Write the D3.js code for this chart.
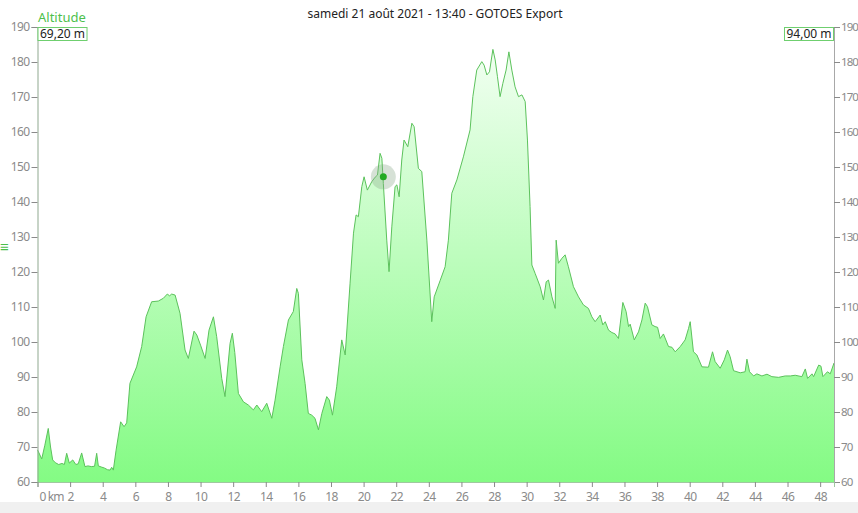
<!DOCTYPE html>
<head>
  <meta charset="utf-8">
  <script src="https://d3js.org/d3.v7.min.js"></script>
  <style>
    body { margin: 0; background: #fff; }
    text { font-family: "Noto Sans", "Open Sans", sans-serif; }
    .axis text { fill: #8a8a8a; font-size: 12px; letter-spacing: -0.6px; }
  </style>
</head>
<body>
<svg id="chart"></svg>
<script>
  // distance (km) and altitude (m)
  var km = [0, 0.26, 0.45, 0.66, 0.8, 0.93, 1.1, 1.3, 1.5, 1.65, 1.79, 1.95, 2.16, 2.35, 2.5, 2.71, 2.91, 3.1, 3.3, 3.5,
    3.63, 3.73, 3.9, 4.1, 4.3, 4.45, 4.55, 4.65, 4.82, 5.1, 5.31, 5.47, 5.67, 6.08, 6.39, 6.66, 7.0, 7.41, 7.72, 7.96,
    8.1, 8.23, 8.44, 8.74, 9.05, 9.25, 9.6, 9.77, 10.0, 10.28, 10.52, 10.79, 10.99, 11.3, 11.5, 11.81, 11.95, 12.1, 12.32, 12.63,
    12.93, 13.24, 13.45, 13.75, 14.06, 14.37, 14.57, 14.88, 15.08, 15.39, 15.69, 15.9, 16.0, 16.21, 16.41, 16.61, 16.82, 17.02, 17.23, 17.44,
    17.74, 17.9, 18.09, 18.35, 18.66, 18.87, 19.17, 19.38, 19.54, 19.68, 19.89, 20.03, 20.23, 20.5, 20.71, 20.85, 21.01, 21.12, 21.21, 21.42,
    21.56, 21.73, 21.93, 22.04, 22.18, 22.34, 22.48, 22.71, 22.96, 23.1, 23.36, 23.57, 23.88, 24.18, 24.33, 24.69, 25.0, 25.2, 25.41, 25.72,
    26.12, 26.53, 26.7, 26.94, 27.25, 27.39, 27.56, 27.72, 27.93, 28.07, 28.21, 28.37, 28.54, 28.74, 28.91, 29.09, 29.29, 29.5, 29.71, 29.91,
    30.05, 30.21, 30.32, 30.52, 30.83, 31.03, 31.2, 31.34, 31.55, 31.75, 31.81, 31.95, 32.16, 32.36, 32.56, 32.87, 33.18, 33.48, 33.79, 34.0,
    34.2, 34.51, 34.67, 34.82, 35.02, 35.23, 35.43, 35.63, 35.9, 36.1, 36.25, 36.35, 36.6, 36.86, 37.07, 37.27, 37.41, 37.68, 37.88, 38.03,
    38.19, 38.39, 38.7, 38.91, 39.11, 39.42, 39.72, 39.93, 40.03, 40.23, 40.44, 40.75, 41.15, 41.4, 41.56, 41.87, 42.12, 42.32, 42.48, 42.69,
    43.1, 43.4, 43.51, 43.67, 43.92, 44.12, 44.43, 44.74, 45.04, 45.45, 45.86, 46.17, 46.47, 46.88, 47.09, 47.23, 47.5, 47.6, 47.91, 48.05,
    48.17, 48.45, 48.62, 48.85];
  var alt = [69.2, 66.6, 70.5, 75.3, 70, 66.3, 65.5, 65.0, 65.3, 65.0, 68.2, 65.4, 66.3, 65.0, 65.2, 68.3, 64.4, 64.6, 64.4, 64.5,
    68.2, 64.6, 64.3, 64.0, 63.5, 63.4, 64.2, 63.4, 69.1, 77.2, 75.8, 76.9, 88.2, 92.9, 98.7, 107.2, 111.5, 111.7, 112.5, 113.7,
    113.2, 113.7, 113.4, 108.2, 97.7, 95.3, 103.1, 102.0, 99.1, 95.3, 103.4, 107.2, 101.5, 89.6, 84.4, 99.6, 102.5, 97, 85.3, 82.9,
    82.0, 80.6, 82.0, 80.1, 82.5, 78.2, 83.4, 92.9, 98.7, 106.3, 108.7, 115.3, 113.9, 94.9, 88.2, 79.6, 79.1, 78.2, 74.9, 79.6,
    84.4, 83.4, 79.1, 87.2, 100.6, 96.3, 116.8, 131.1, 136.3, 135.8, 144.4, 147.2, 143.4, 145.8, 147.1, 147.7, 153.9, 152.5, 145.3, 129.1,
    120.1, 132.9, 144.4, 144.9, 141.5, 152.0, 157.7, 155.8, 162.5, 161.5, 149.6, 148.7, 129.1, 105.8, 112.9, 117.5, 121.5, 129.1, 142.5, 146.3,
    152.9, 160.6, 170.1, 177.7, 180.1, 179.1, 176.3, 177.2, 183.6, 180.6, 175.8, 170.1, 173.9, 177.7, 182.9, 177.7, 172.9, 170.1, 170.6, 168.7,
    157.7, 138.7, 122.0, 119.6, 115.8, 112.0, 117.2, 117.7, 112.9, 109.6, 129.1, 122.5, 123.9, 124.9, 121.5, 115.8, 112.9, 110.6, 109.6, 107.2,
    105.8, 107.7, 104.9, 105.8, 103.4, 102.7, 102.3, 101.0, 111.3, 108.7, 104.4, 105.1, 100.6, 102.9, 106.3, 111.1, 110.1, 104.9, 104.4, 104.2,
    101.0, 102.3, 98.7, 98.5, 97.2, 98.7, 100.6, 103.9, 105.8, 97.2, 96.3, 92.9, 92.8, 97.2, 94.4, 92.5, 94.9, 97.7, 95.8, 91.8,
    91.2, 91.5, 95.1, 91.5, 90.3, 90.9, 90.3, 90.8, 90.1, 89.9, 90.3, 90.3, 90.5, 90.1, 92.3, 89.6, 90.9, 90.1, 93.4, 93.1,
    90.1, 91.5, 90.9, 94.0];

  var yTicks = [60, 70, 80, 90, 100, 110, 120, 130, 140, 150, 160, 170, 180, 190];
  var xTicks = [0, 2, 4, 6, 8, 10, 12, 14, 16, 18, 20, 22, 24, 26, 28, 30, 32, 34, 36, 38, 40, 42, 44, 46, 48];
  var cursor = {km: 21.21, alt: 147.2};
  var title = "samedi 21 août 2021 - 13:40 - GOTOES Export";

  var width = 858, height = 513;
  var mLeft = 37.5, mRight = 834, mTop = 27, mBottom = 482;

  var svg = d3.select("#chart").attr("width", width).attr("height", height);

  var x = d3.scaleLinear().domain([0, 48.85]).range([mLeft, mRight]);
  var y = d3.scaleLinear().domain([60, 190]).range([mBottom, mTop]);

  var data = km.map(function(d, i) { return {km: d, alt: alt[i]}; });

  // gradient for the area
  var defs = svg.append("defs");
  var grad = defs.append("linearGradient")
    .attr("id", "fillGrad")
    .attr("gradientUnits", "userSpaceOnUse")
    .attr("x1", 0).attr("x2", 0)
    .attr("y1", mTop).attr("y2", mBottom);
  grad.append("stop").attr("offset", "0%").attr("stop-color", "#f7fff7");
  grad.append("stop").attr("offset", "100%").attr("stop-color", "#84fb84");

  // bottom grey band
  svg.append("rect").attr("x", 0).attr("y", 502).attr("width", width).attr("height", 11).attr("fill", "#f0f0f0");

  var area = d3.area()
    .x(function(d) { return x(d.km); })
    .y0(y(60))
    .y1(function(d) { return y(d.alt); });
  var line = d3.line()
    .x(function(d) { return x(d.km); })
    .y(function(d) { return y(d.alt); });

  svg.append("path").datum(data).attr("d", area).attr("fill", "url(#fillGrad)");
  svg.append("path").datum(data).attr("d", line)
    .attr("fill", "none").attr("stroke", "#5cc25c").attr("stroke-width", 1);

  // axes
  var yLeft = svg.append("g").attr("class", "axis")
    .attr("transform", "translate(" + mLeft + ",0)")
    .call(d3.axisLeft(y).tickValues(yTicks).tickSize(6).tickPadding(2));
  yLeft.select(".domain").attr("stroke", "#8fa88f");
  yLeft.selectAll(".tick line").attr("stroke", "#8a8a8a");

  var yRight = svg.append("g").attr("class", "axis")
    .attr("transform", "translate(" + mRight + ",0)")
    .call(d3.axisRight(y).tickValues(yTicks).tickSize(6).tickPadding(1));
  yRight.select(".domain").attr("stroke", "#a8a8a8");
  yRight.selectAll(".tick line").attr("stroke", "#8a8a8a");
  yRight.selectAll(".tick text").style("font-size", "11.5px").style("letter-spacing", "-0.9px");

  var xAxis = svg.append("g").attr("class", "axis")
    .attr("transform", "translate(0," + mBottom + ")")
    .call(d3.axisBottom(x).tickValues(xTicks).tickSize(5).tickPadding(5)
      .tickFormat(function(d) { return d === 0 ? "0 km" : d; }));
  xAxis.select(".domain").attr("stroke", "#a0c8a0");
  xAxis.selectAll(".tick line").attr("stroke", "#8a8a8a");
  xAxis.selectAll(".tick text").filter(function(d) { return d === 0; })
    .attr("text-anchor", "start").attr("x", 1.5).style("letter-spacing", "-0.9px");

  // title
  svg.append("text").attr("x", 435).attr("y", 17.5).attr("text-anchor", "middle")
    .attr("font-size", 12).attr("fill", "#222").text(title);

  // series label and value boxes
  svg.append("text").attr("x", 38).attr("y", 22).attr("font-size", 13)
    .attr("fill", "#4cbf4c").text("Altitude");

  function valueBox(x0, label, anchor) {
    var g = svg.append("g");
    var t = g.append("text").attr("y", 38).attr("font-size", 12).attr("fill", "#222").text(label);
    var w = t.node().getComputedTextLength() + 4;
    var bx = anchor === "start" ? x0 : x0 - w;
    t.attr("x", bx + 2);
    g.insert("rect", "text").attr("x", bx).attr("y", 27.5).attr("width", w).attr("height", 13)
      .attr("fill", "#fff").attr("stroke", "#6fcf6f");
  }
  valueBox(38, d3.format(".2f")(alt[0]).replace(".", ",") + " m", "start");
  valueBox(833.5, d3.format(".2f")(alt[alt.length - 1]).replace(".", ",") + " m", "end");

  // cursor marker
  svg.append("circle").attr("cx", x(cursor.km)).attr("cy", y(cursor.alt)).attr("r", 12.5)
    .attr("fill", "#8aa88a").attr("fill-opacity", 0.35);
  svg.append("circle").attr("cx", x(cursor.km)).attr("cy", y(cursor.alt)).attr("r", 3.5)
    .attr("fill", "#22aa22");

  // menu glyph on the left edge
  svg.append("text").attr("x", 0).attr("y", 252).attr("font-size", 15).attr("fill", "#4cbf4c").text("\u2261");
</script>
</body>
